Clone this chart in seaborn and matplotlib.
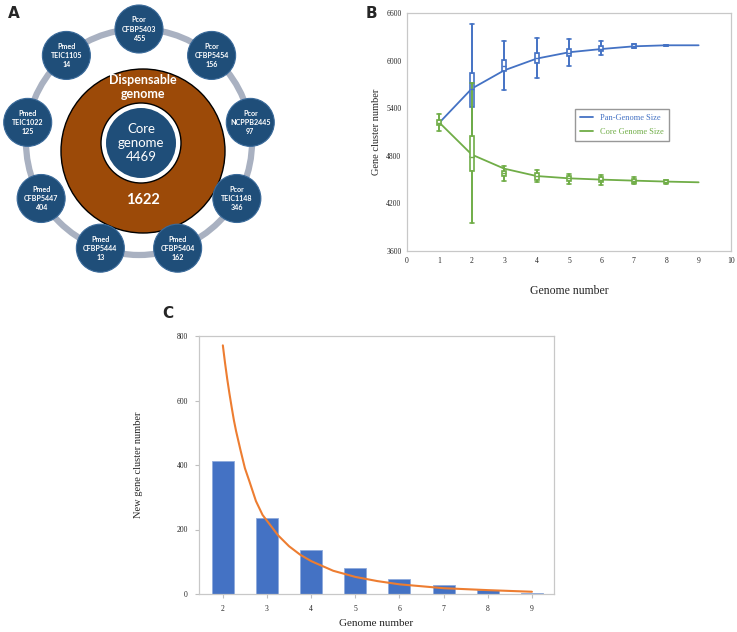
import numpy as np
import pandas as pd
import matplotlib
matplotlib.use("Agg")
import matplotlib.pyplot as plt
from matplotlib.patches import Circle
import seaborn as sns

##########################################################
# Data

# Panel A : strain specific genes
strains = ["Pcor\nCFBP5403", "Pcor\nCFBP5454", "Pcor\nNCPPB2445", "Pcor\nTEIC1148",
           "Pmed\nCFBP5404", "Pmed\nCFBP5444", "Pmed\nCFBP5447", "Pmed\nTEIC1022",
           "Pmed\nTEIC1105"]
specific = [455, 156, 97, 346, 162, 13, 404, 125, 14]
core_size = 4469
dispensable = 1622

# Panel B : pan / core genome curves
genomes_b = [1, 2, 3, 4, 5, 6, 7, 8, 9]
pan_mean = [5218, 5647, 5877, 6025, 6105, 6146, 6180, 6193, 6193]
core_mean = [5218, 4815, 4638, 4545, 4516, 4500, 4487, 4475, 4466]

pan_box_x = [2, 3, 4, 5, 6, 7, 8]
pan_lo = [4785, 5626, 5786, 5932, 6067, 6159, 6190]
pan_q1 = [5415, 5869, 5970, 6058, 6121, 6159, 6190]
pan_med = [5640, 5930, 6030, 6100, 6150, 6180, 6193]
pan_q3 = [5844, 6013, 6101, 6151, 6184, 6205, 6198]
pan_hi = [6466, 6243, 6281, 6277, 6243, 6205, 6198]

core_box_x = [1, 2, 3, 4, 5, 6, 7, 8]
core_lo = [5113, 3953, 4482, 4464, 4450, 4437, 4441, 4450]
core_q1 = [5185, 4605, 4545, 4500, 4483, 4470, 4462, 4455]
core_med = [5215, 4785, 4580, 4540, 4515, 4500, 4487, 4475]
core_q3 = [5248, 5046, 4608, 4578, 4546, 4529, 4512, 4495]
core_hi = [5332, 5718, 4672, 4615, 4567, 4558, 4538, 4500]

# Panel C : new genes
genomes_c = [2, 3, 4, 5, 6, 7, 8, 9]
new_genes = [411, 235, 137, 80, 47, 27, 13, 3]
fit_x = [2, 2.05, 2.1, 2.15, 2.2, 2.25, 2.3, 2.4, 2.5, 2.6, 2.75, 2.9, 3, 3.25, 3.5,
         3.75, 4, 4.5, 5, 5.5, 6, 7, 8, 9]
fit_y = [771, 716, 666, 621, 579, 539, 505, 446, 390, 350, 288, 245, 227, 182, 148,
         122, 102, 72, 53, 40, 30, 18, 12, 7]

NAVY = "#1F4E79"
BROWN = "#9C4A08"
BLUE = "#4472C4"
GREEN = "#70AD47"
ORANGE = "#ED7D31"

sns.set_style("white")
plt.rcParams["font.family"] = ["Liberation Serif", "DejaVu Serif"]

fig = plt.figure(figsize=(7.37, 6.32), dpi=100)
W, H = 737, 632


def px_axes(left, top, right, bottom):
    return fig.add_axes([left / W, (H - bottom) / H, (right - left) / W, (bottom - top) / H])


##########################################################
# Panel A

axa = px_axes(0, 0, 300, 300)
axa.set_xlim(0, 300)
axa.set_ylim(300, 0)
axa.axis("off")

cx, cy, r_ring = 139, 142, 113
axa.add_patch(Circle((cx, cy), r_ring, fill=False, ec="#A9B1C1", lw=4.5, zorder=1))
axa.add_patch(Circle((143, 151), 82, fc=BROWN, ec="black", lw=1, zorder=2))
axa.add_patch(Circle((141, 143), 40, fc="white", ec="black", lw=1, zorder=3))
axa.add_patch(Circle((141, 143), 35, fc=NAVY, ec="none", zorder=4))

angles = np.deg2rad(90 - 40 * np.arange(len(strains)))
for ang, name, val in zip(angles, strains, specific):
    x = cx + r_ring * np.cos(ang)
    y = cy - r_ring * np.sin(ang)
    axa.add_patch(Circle((x, y), 24, fc=NAVY, ec="#3A6A9A", lw=0.8, zorder=5))
    axa.text(x, y, f"{name}\n{val}", color="white", fontsize=5.1, fontweight="bold",
             ha="center", va="center", family=["Lato", "DejaVu Sans"], zorder=6,
             linespacing=1.35)

axa.text(143, 87, "Dispensable\ngenome", color="white", fontsize=9, fontweight="bold",
         ha="center", va="center", family=["Lato", "DejaVu Sans"], zorder=6, linespacing=1.3)
axa.text(141, 143, f"Core\ngenome\n{core_size}", color="white", fontsize=9.5,
         ha="center", va="center", family=["Lato", "DejaVu Sans"], zorder=6, linespacing=1.2)
axa.text(143, 200, f"{dispensable}", color="white", fontsize=10.5, fontweight="bold",
         ha="center", va="center", family=["Lato", "DejaVu Sans"], zorder=6)
fig.text(14 / W, 1 - 14 / H, "A", fontsize=11, fontweight="bold", family="DejaVu Sans",
         ha="center", va="center")

##########################################################
# Panel B


def bxp_stats(lo, q1, med, q3, hi):
    return [dict(whislo=a, q1=b, med=c, q3=d, whishi=e, fliers=[])
            for a, b, c, d, e in zip(lo, q1, med, q3, hi)]


axb = px_axes(407, 13, 731, 251)
dfb = pd.DataFrame({"Genome": genomes_b * 2,
                    "Size": pan_mean + core_mean,
                    "Serie": ["Pan-Genome Size"] * 9 + ["Core Genome Size"] * 9})
sns.lineplot(data=dfb, x="Genome", y="Size", hue="Serie",
             palette={"Pan-Genome Size": BLUE, "Core Genome Size": GREEN},
             lw=1.3, ax=axb, zorder=3)

for stats, pos, col in [(bxp_stats(pan_lo, pan_q1, pan_med, pan_q3, pan_hi), pan_box_x, BLUE),
                        (bxp_stats(core_lo, core_q1, core_med, core_q3, core_hi), core_box_x, GREEN)]:
    axb.bxp(stats, positions=pos, widths=0.12, showfliers=False, manage_ticks=False,
            patch_artist=True,
            boxprops=dict(facecolor="white", edgecolor=col, lw=1.2),
            whiskerprops=dict(color=col, lw=1.4),
            capprops=dict(color=col, lw=1.2),
            medianprops=dict(color=col, lw=1.0),
            capwidths=0.12, zorder=4)

axb.set_xlim(0, 10)
axb.set_ylim(3600, 6600)
axb.set_xticks(range(0, 11))
axb.set_yticks([3600, 4200, 4800, 5400, 6000, 6600])
axb.tick_params(labelsize=5.5, length=2, color="#BFBFBF", pad=2)
for s in axb.spines.values():
    s.set_color("#C8C8C8")
    s.set_linewidth(0.9)
axb.set_xlabel("Genome number", fontsize=8.5, labelpad=15)
axb.set_ylabel("Gene cluster number", fontsize=7.5, labelpad=4)
leg = axb.legend(loc="upper left", bbox_to_anchor=(0.505, 0.615), fontsize=6,
                 frameon=True, fancybox=False, edgecolor="#7F7F7F", labelcolor="linecolor",
                 handlelength=1.6, borderpad=0.6, labelspacing=0.7)
leg.get_frame().set_linewidth(1.0)
fig.text(371 / W, 1 - 14 / H, "B", fontsize=11, fontweight="bold", family="DejaVu Sans",
         ha="center", va="center")

##########################################################
# Panel C

axc = px_axes(199, 336, 554, 594)
sns.barplot(x=genomes_c, y=new_genes, native_scale=True, width=0.5, color=BLUE,
            edgecolor="#8FAADC", linewidth=0.6, errorbar=None, saturation=1, ax=axc)
sns.lineplot(x=fit_x, y=fit_y, color=ORANGE, lw=1.5, ax=axc, zorder=5)
axc.set_xlim(1.46, 9.5)
axc.set_ylim(0, 800)
axc.set_xticks(genomes_c)
axc.set_xticklabels([str(g) for g in genomes_c])
axc.set_yticks([0, 200, 400, 600, 800])
axc.tick_params(labelsize=5.5, length=3, color="#BFBFBF", pad=5, bottom=True, left=True)
for s in axc.spines.values():
    s.set_color("#C8C8C8")
    s.set_linewidth(0.9)
axc.set_xlabel("Genome number", fontsize=8, labelpad=4)
axc.set_ylabel("New gene cluster number", fontsize=7.5)
axc.yaxis.set_label_coords(-56 / 355, 0.5)
fig.text(168 / W, 1 - 313 / H, "C", fontsize=11, fontweight="bold", family="DejaVu Sans",
         ha="center", va="center")

fig.savefig("out.png", dpi=100)
